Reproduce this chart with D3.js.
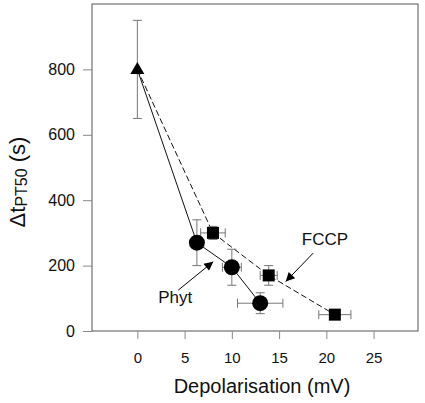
<!DOCTYPE html>
<html>
<head>
<meta charset="utf-8">
<script src="https://cdn.jsdelivr.net/npm/d3@7"></script>
<style>
  html, body { margin: 0; padding: 0; background: #fff; }
  svg { display: block; font-family: "Liberation Sans", Arial, sans-serif; }
</style>
</head>
<body>
<svg id="chart" width="425" height="403"></svg>
<script>
// ---- data ----
const xTicks = [0, 5, 10, 15, 20, 25];
const yTicks = [0, 200, 400, 600, 800];

const controlX = [0];
const controlY = [800];
const controlYErr = [150];

const phytX = [6.3, 10, 13];
const phytY = [270, 195, 85];
const phytXErr = [0.4, 1.0, 2.4];
const phytYErr = [70, 55, 32];

const fccpX = [8, 13.9, 20.9];
const fccpY = [300, 170, 50];
const fccpXErr = [1.3, 0.9, 1.7];
const fccpYErr = [20, 30, 5];

const labelNames = ["Phyt", "FCCP"];
const labelX = [2.2, 17.4];
const labelY = [86, 263];
const arrowFromX = [4.33, 18.6];
const arrowFromY = [125, 238];
const arrowToX = [8.03, 15.7];
const arrowToY = [212, 151];

// ---- layout ----
const svg = d3.select("#chart");
const mLeft = 92, mRight = 418, mTop = 4, mBottom = 331;
const x = d3.scaleLinear().domain([-4.8, 29.7]).range([mLeft, mRight]);
const y = d3.scaleLinear().domain([0, 1000]).range([mBottom, mTop]);

const axisColor = "#555";
const errColor = "#777";

// frame
svg.append("rect")
  .attr("x", mLeft).attr("y", mTop)
  .attr("width", mRight - mLeft).attr("height", mBottom - mTop)
  .attr("fill", "none").attr("stroke", axisColor).attr("stroke-width", 1);

// x axis
const xAxis = svg.append("g")
  .attr("transform", `translate(0,${mBottom})`)
  .call(d3.axisBottom(x).tickValues(xTicks).tickSize(8).tickPadding(13).tickFormat(d3.format("d")));
xAxis.select(".domain").remove();
xAxis.selectAll(".tick line").attr("stroke", "#888");
xAxis.selectAll(".tick text").attr("font-size", 15).attr("fill", "#111")
  .attr("font-family", "Liberation Sans, Arial, sans-serif");

// y axis
const yAxis = svg.append("g")
  .attr("transform", `translate(${mLeft},0)`)
  .call(d3.axisLeft(y).tickValues(yTicks).tickSize(9).tickPadding(8).tickFormat(d3.format("d")));
yAxis.select(".domain").remove();
yAxis.selectAll(".tick line").attr("stroke", "#888");
yAxis.selectAll(".tick text").attr("font-size", 16).attr("fill", "#111")
  .attr("font-family", "Liberation Sans, Arial, sans-serif");

// axis titles
svg.append("text")
  .attr("x", (mLeft + mRight) / 2 + 7)
  .attr("y", 393)
  .attr("text-anchor", "middle")
  .attr("font-size", 20)
  .attr("fill", "#111")
  .text("Depolarisation (mV)");

const yt = svg.append("text")
  .attr("transform", "translate(25,182) rotate(-90)")
  .attr("text-anchor", "middle")
  .attr("font-size", 22)
  .attr("fill", "#111");
yt.append("tspan").text("\u0394t");
yt.append("tspan").attr("font-size", 16).attr("dy", 2).text("PT50");
yt.append("tspan").attr("dy", -2).text(" (s)");

// ---- lines ----
const line = d3.line().x(d => x(d[0])).y(d => y(d[1]));
const phytPts = [[controlX[0], controlY[0]]].concat(phytX.map((v, i) => [v, phytY[i]]));
const fccpPts = [[controlX[0], controlY[0]]].concat(fccpX.map((v, i) => [v, fccpY[i]]));

svg.append("path").attr("d", line(fccpPts))
  .attr("fill", "none").attr("stroke", "#111").attr("stroke-width", 1)
  .attr("stroke-dasharray", "6,3");
svg.append("path").attr("d", line(phytPts))
  .attr("fill", "none").attr("stroke", "#111").attr("stroke-width", 1);

// ---- error bars ----
function errorBars(xs, ys, xe, ye) {
  const g = svg.append("g").attr("stroke", errColor).attr("stroke-width", 1).attr("fill", "none");
  xs.forEach((xv, i) => {
    const cx = x(xv), cy = y(ys[i]);
    if (ye && ye[i]) {
      const y1 = y(ys[i] + ye[i]), y2 = y(ys[i] - ye[i]);
      g.append("line").attr("x1", cx).attr("x2", cx).attr("y1", y1).attr("y2", y2);
      g.append("line").attr("x1", cx - 4.5).attr("x2", cx + 4.5).attr("y1", y1).attr("y2", y1);
      g.append("line").attr("x1", cx - 4.5).attr("x2", cx + 4.5).attr("y1", y2).attr("y2", y2);
    }
    if (xe && xe[i]) {
      const x1 = x(xv - xe[i]), x2 = x(xv + xe[i]);
      g.append("line").attr("x1", x1).attr("x2", x2).attr("y1", cy).attr("y2", cy);
      g.append("line").attr("x1", x1).attr("x2", x1).attr("y1", cy - 4.5).attr("y2", cy + 4.5);
      g.append("line").attr("x1", x2).attr("x2", x2).attr("y1", cy - 4.5).attr("y2", cy + 4.5);
    }
  });
}
errorBars(controlX, controlY, null, controlYErr);
errorBars(phytX, phytY, phytXErr, phytYErr);
errorBars(fccpX, fccpY, fccpXErr, fccpYErr);

// ---- markers ----
svg.append("g").selectAll("circle").data(phytX).join("circle")
  .attr("cx", (d) => x(d)).attr("cy", (d, i) => y(phytY[i]))
  .attr("r", 8).attr("fill", "#000");

svg.append("g").selectAll("rect").data(fccpX).join("rect")
  .attr("x", d => x(d) - 6).attr("y", (d, i) => y(fccpY[i]) - 6)
  .attr("width", 12).attr("height", 12).attr("fill", "#000");

svg.append("g").selectAll("path").data(controlX).join("path")
  .attr("d", (d, i) => {
    const cx = x(d), cy = y(controlY[i]);
    return `M${cx},${cy - 7.5} L${cx + 7},${cy + 4.5} L${cx - 7},${cy + 4.5} Z`;
  })
  .attr("fill", "#000");

// ---- annotations ----
svg.append("defs").append("marker")
  .attr("id", "arrowhead")
  .attr("viewBox", "0 0 10 10")
  .attr("refX", 10).attr("refY", 5)
  .attr("markerWidth", 11).attr("markerHeight", 9)
  .attr("markerUnits", "userSpaceOnUse")
  .attr("orient", "auto")
  .append("path").attr("d", "M0,0 L10,5 L0,10 Z").attr("fill", "#000");

labelNames.forEach((name, i) => {
  svg.append("line")
    .attr("x1", x(arrowFromX[i])).attr("y1", y(arrowFromY[i]))
    .attr("x2", x(arrowToX[i])).attr("y2", y(arrowToY[i]))
    .attr("stroke", "#000").attr("stroke-width", 1)
    .attr("marker-end", "url(#arrowhead)");
  svg.append("text")
    .attr("x", x(labelX[i])).attr("y", y(labelY[i]))
    .attr("font-size", 17).attr("fill", "#111")
    .text(name);
});
</script>
</body>
</html>
